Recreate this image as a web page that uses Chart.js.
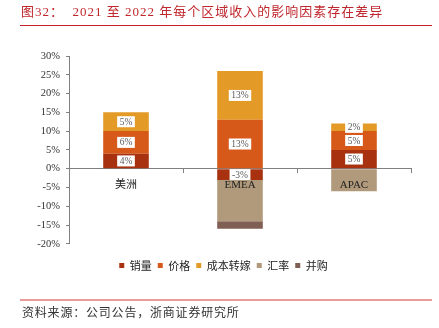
<!DOCTYPE html>
<html lang="zh">
<head>
<meta charset="UTF-8">
<title>2021 至 2022 年每个区域收入的影响因素</title>
<script src="https://cdn.jsdelivr.net/npm/chart.js"></script>
<style>
    html, body {
        margin: 0;
        padding: 0;
        width: 439px;
        height: 328px;
        background: #fff;
        overflow: hidden;
    }
    #wrap {
        position: absolute;
        left: 0;
        top: 0;
        width: 439px;
        height: 328px;
    }
    .title {
        position: absolute;
        left: 21px;
        top: 3px;
        line-height: 18px;
        font-family: "Liberation Serif", "Noto Sans CJK SC", serif;
        font-size: 13px;
        letter-spacing: 1px;
        color: #c0272d;
        white-space: pre;
    }
    .title-rule {
        position: absolute;
        left: 20px;
        top: 25px;
        width: 412px;
        height: 0;
        border-top: 1.5px solid #c8202a;
    }
    .source-rule {
        position: absolute;
        left: 20px;
        top: 299px;
        width: 412px;
        height: 0;
        border-top: 2px solid #e89c9c;
    }
    .source {
        position: absolute;
        left: 22px;
        top: 304px;
        line-height: 16px;
        font-family: "Noto Sans CJK SC", sans-serif;
        font-size: 12px;
        letter-spacing: 0.8px;
        color: #333;
    }
</style>
</head>
<body>
<div id="wrap"><canvas id="regionChart" width="439" height="328"></canvas></div>
<div class="title">图32：  2021 至 2022 年每个区域收入的影响因素存在差异</div>
<div class="title-rule"></div>
<div class="source-rule"></div>
<div class="source">资料来源：公司公告，浙商证券研究所</div>
<script>
    // revenue drivers by region, 2021 -> 2022 (percentage points)
    const regions = ['美洲', 'EMEA', 'APAC'];
    const volume = [4, -3, 5];
    const price = [6, 13, 5];
    const costPassThrough = [5, 13, 2];
    const fxRate = [0, -11, -6];
    const acquisitions = [0, -2, 0];

    const seriesNames = ['销量', '价格', '成本转嫁', '汇率', '并购'];
    const seriesColors = ['#a8320f', '#d6591a', '#e39a27', '#b09a7b', '#7f5e54'];
    const seriesValues = [volume, price, costPassThrough, fxRate, acquisitions];
    // only the first three series carry value boxes
    const labelledSeries = [0, 1, 2];

    const serif = '"Liberation Serif", "Noto Sans CJK SC", serif';

    // white boxes with the value in the middle of each segment
    const segmentLabels = {
        id: 'segmentLabels',
        afterDatasetsDraw(chart) {
            const ctx = chart.ctx;
            ctx.save();
            ctx.font = '9.5px ' + serif;
            ctx.textAlign = 'center';
            ctx.textBaseline = 'middle';
            labelledSeries.forEach(i => {
                const meta = chart.getDatasetMeta(i);
                meta.data.forEach((bar, j) => {
                    const v = chart.data.datasets[i].data[j];
                    if (!v) return;
                    const txt = v + '%';
                    const w = ctx.measureText(txt).width + 5;
                    const h = 11;
                    const cy = (bar.y + bar.base) / 2;
                    ctx.fillStyle = '#fff';
                    ctx.fillRect(bar.x - w / 2, cy - h / 2, w, h);
                    ctx.fillStyle = '#595959';
                    ctx.fillText(txt, bar.x, cy + 0.5);
                });
            });
            ctx.restore();
        }
    };

    const ctx = document.getElementById('regionChart').getContext('2d');
    new Chart(ctx, {
        type: 'bar',
        data: {
            labels: regions,
            datasets: seriesNames.map((name, i) => ({
                label: name,
                data: seriesValues[i],
                backgroundColor: seriesColors[i],
                borderWidth: 0,
                categoryPercentage: 1,
                barPercentage: 0.4
            }))
        },
        options: {
            responsive: false,
            animation: false,
            layout: {
                padding: { left: 36, right: 28, top: 56, bottom: 47 }
            },
            scales: {
                x: {
                    stacked: true,
                    position: { y: 0 },
                    grid: {
                        drawOnChartArea: false,
                        drawTicks: true,
                        tickLength: 4,
                        color: '#808080',
                        offset: true
                    },
                    border: { color: '#808080', width: 1 },
                    ticks: {
                        z: 1,
                        font: { family: serif, size: 11 },
                        color: '#222',
                        padding: 6
                    }
                },
                y: {
                    stacked: true,
                    min: -20,
                    max: 30,
                    afterFit: s => { s.width = 33; },
                    grid: {
                        drawOnChartArea: false,
                        drawTicks: true,
                        tickLength: 3,
                        color: '#808080'
                    },
                    border: { color: '#808080', width: 1 },
                    ticks: {
                        stepSize: 5,
                        padding: 6,
                        callback: v => v + '%',
                        font: { family: serif, size: 10.5 },
                        color: '#333'
                    }
                }
            },
            plugins: {
                tooltip: { enabled: false },
                legend: {
                    position: 'bottom',
                    title: { display: true, text: '', font: { size: 1 }, padding: { top: 0, bottom: 9 } },
                    labels: {
                        boxWidth: 5,
                        boxHeight: 5,
                        padding: 6,
                        color: '#222',
                        font: { family: '"Noto Sans CJK SC", sans-serif', size: 11 }
                    }
                }
            }
        },
        plugins: [segmentLabels]
    });
</script>
</body>
</html>
